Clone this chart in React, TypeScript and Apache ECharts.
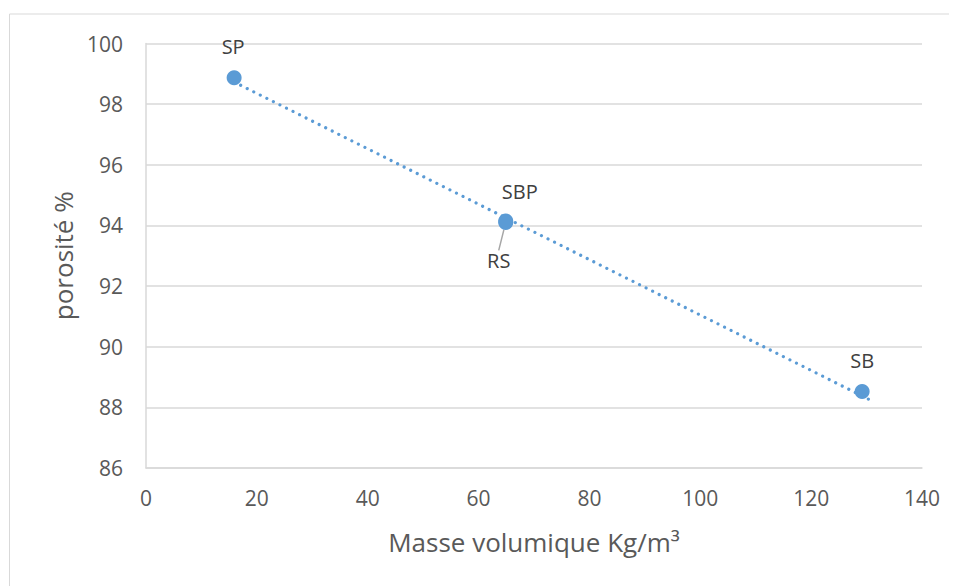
import React, { useEffect, useRef } from "react";
import * as echarts from "echarts";

const pointNames = ["SP", "SBP", "RS", "SB"];
const masseVolumique = [15.9, 64.9, 64.9, 129.2];
const porosite = [98.87, 94.15, 94.1, 88.52];
const trendX = [15.9, 130.8];
const trendY = [98.73, 88.23];
const xAxisTitle = "Masse volumique Kg/m³";
const yAxisTitle = "porosité %";

// label offsets from point centre (layout, not data)
const labelOffsets: [number, number][] = [
  [-1, -31],
  [14, -29],
  [-7, 38],
  [0, -31],
];

const FONT = "'Open Sans', Lato, sans-serif";

export default function App() {
  const ref = useRef<HTMLDivElement>(null);
  useEffect(() => {
    if (!ref.current) return;
    const chart = echarts.init(ref.current, undefined, { renderer: "svg" });
    const scatterData = pointNames.map((n, i) => ({
      name: n,
      value: [masseVolumique[i], porosite[i]],
      labelLine: { show: n === "RS" },
    }));
    const trendData = trendX.map((x, i) => [x, trendY[i]]);
    chart.setOption({
      animation: false,
      backgroundColor: "#ffffff",
      textStyle: { fontFamily: FONT },
      graphic: [
        {
          type: "rect",
          shape: { x: 1.5, y: 6, width: 1200, height: 1200 },
          style: { fill: "none", stroke: "#d9d9d9", lineWidth: 1 },
          silent: true,
        },
      ],
      grid: { left: 138, right: 35, top: 35.5, bottom: 118, containLabel: false },
      xAxis: {
        type: "value",
        min: 0,
        max: 140,
        interval: 20,
        name: xAxisTitle,
        nameLocation: "middle",
        nameGap: 61,
        nameTextStyle: { fontSize: 26, color: "#595959", fontFamily: FONT },
        axisLine: { show: true, lineStyle: { color: "#d9d9d9", width: 1.5 } },
        axisTick: { show: false },
        axisLabel: { fontSize: 21, color: "#595959", margin: 19, fontFamily: FONT },
        splitLine: { show: false },
      },
      yAxis: {
        type: "value",
        min: 86,
        max: 100,
        interval: 2,
        name: yAxisTitle,
        nameLocation: "middle",
        nameGap: 67,
        nameRotate: 90,
        nameTextStyle: { fontSize: 26, color: "#595959", fontFamily: FONT },
        axisLine: { show: true, lineStyle: { color: "#d9d9d9", width: 1.5 } },
        axisTick: { show: false },
        axisLabel: { fontSize: 21, color: "#595959", margin: 23, fontFamily: FONT },
        splitLine: { show: true, lineStyle: { color: "#d9d9d9", width: 1.5 } },
      },
      series: [
        {
          type: "line",
          data: trendData,
          symbol: "none",
          z: 1,
          lineStyle: {
            color: "#5b9bd5",
            width: 3.2,
            type: [0.01, 7.3],
            cap: "round",
          },
          silent: true,
        },
        {
          type: "scatter",
          data: scatterData,
          symbolSize: 15,
          z: 3,
          itemStyle: { color: "#5b9bd5", opacity: 1 },
          label: {
            show: true,
            position: "inside",
            formatter: (p: any) => p.name,
            fontSize: 20,
            color: "#404040",
            fontFamily: FONT,
          },
          labelLayout: (p: any) => {
            const o = labelOffsets[p.dataIndex];
            return { dx: o[0], dy: o[1] };
          },
          labelLine: { show: false, lineStyle: { color: "#a6a6a6", width: 1.5 } },
        },
      ],
    });
    return () => chart.dispose();
  }, []);
  return <div ref={ref} style={{ width: 949, height: 578 }} />;
}
